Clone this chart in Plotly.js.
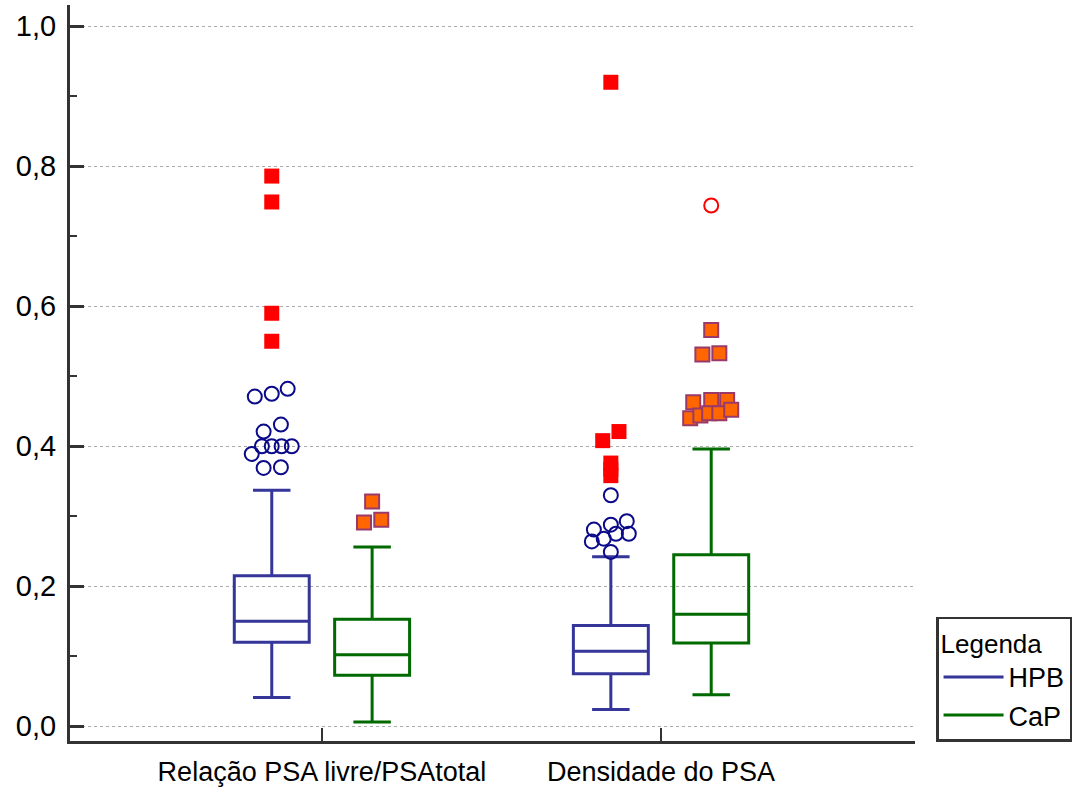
<!DOCTYPE html>
<html>
<head>
<meta charset="utf-8">
<script src="https://cdn.plot.ly/plotly-3.0.1.min.js"></script>
<style>html,body{margin:0;padding:0;background:#fff;}#chart{width:1075px;height:793px;}</style>
</head>
<body>
<div id="chart"></div>
<script>
// ---- Data ----
const categories = ["Relação PSA livre/PSAtotal", "Densidade do PSA"];
const seriesNames = ["HPB", "CaP"];

// Box statistics per category [Relação, Densidade]
const hpbLowerWhisker = [0.041, 0.024];
const hpbQ1           = [0.120, 0.075];
const hpbMedian       = [0.150, 0.107];
const hpbQ3           = [0.215, 0.144];
const hpbUpperWhisker = [0.337, 0.242];

const capLowerWhisker = [0.006, 0.045];
const capQ1           = [0.073, 0.119];
const capMedian       = [0.102, 0.160];
const capQ3           = [0.153, 0.245];
const capUpperWhisker = [0.256, 0.396];

// Outside values (circles) and far-out values (squares), per category
const hpbOutside1 = [0.471, 0.475, 0.482, 0.431, 0.421, 0.389, 0.400, 0.400, 0.400, 0.400, 0.369, 0.370];
const hpbOutside1Jitter = [-0.050, 0, 0.047, 0.027, -0.024, -0.059, -0.029, 0, 0.029, 0.059, -0.024, 0.027];
const hpbFarOut1 = [0.786, 0.749, 0.590, 0.550];
const hpbFarOut1Jitter = [0, 0, 0, 0];

const capFarOut1 = [0.321, 0.291, 0.295];
const capFarOut1Jitter = [0, -0.024, 0.027];

const hpbOutside2 = [0.330, 0.281, 0.288, 0.293, 0.264, 0.268, 0.275, 0.275, 0.249];
const hpbOutside2Jitter = [0, -0.050, 0, 0.047, -0.056, -0.021, 0.015, 0.053, 0];
const hpbFarOut2 = [0.920, 0.408, 0.421, 0.376, 0.367, 0.358];
const hpbFarOut2Jitter = [0, -0.024, 0.024, 0, 0, 0];

const capOutside2 = [0.744];
const capOutside2Jitter = [0];
const capFarOut2 = [0.566, 0.531, 0.533, 0.463, 0.466, 0.466, 0.440, 0.444, 0.447, 0.447, 0.452];
const capFarOut2Jitter = [0, -0.026, 0.024, -0.053, 0, 0.047, -0.062, -0.032, -0.006, 0.024, 0.059];

// ---- Styling ----
const HPB_COLOR = "#35359a";
const CAP_COLOR = "#006a00";
const OFFSET = 0.148;
const BOXW = 0.221;
const FONT = "Liberation Sans, Arial, sans-serif";

const catIdx = categories.map((c, i) => i);
function xs(cat, off, jit) { return jit.map(j => cat + off + j); }

function boxTrace(name, color, off, lf, q1, med, q3, uf) {
  return {
    type: "box", name: name, showlegend: false,
    x: catIdx.map(i => i + off),
    lowerfence: lf, q1: q1, median: med, q3: q3, upperfence: uf,
    width: BOXW, whiskerwidth: 0.5, boxpoints: false,
    fillcolor: "rgba(255,255,255,0)",
    line: {color: color, width: 3},
    hoverinfo: "y"
  };
}

const circleNavy = {symbol: "circle-open", size: 14, color: "#0a0a8a", line: {width: 2, color: "#0a0a8a"}};
const circleRed = {symbol: "circle-open", size: 14, color: "#ff0000", line: {width: 2, color: "#ff0000"}};
const squareRed = {symbol: "square", size: 15, color: "#ff0000", line: {width: 0}};
const squareOrange = {symbol: "square", size: 14, color: "#ff6600", line: {width: 2, color: "#9a3a6a"}};

function pts(x, y, marker) {
  return {type: "scatter", mode: "markers", x: x, y: y, marker: marker, showlegend: false, hoverinfo: "y"};
}

const data = [
  boxTrace(seriesNames[0], HPB_COLOR, -OFFSET, hpbLowerWhisker, hpbQ1, hpbMedian, hpbQ3, hpbUpperWhisker),
  boxTrace(seriesNames[1], CAP_COLOR, OFFSET, capLowerWhisker, capQ1, capMedian, capQ3, capUpperWhisker),
  pts(xs(0, -OFFSET, hpbOutside1Jitter), hpbOutside1, circleNavy),
  pts(xs(0, -OFFSET, hpbFarOut1Jitter), hpbFarOut1, squareRed),
  pts(xs(0, OFFSET, capFarOut1Jitter), capFarOut1, squareOrange),
  pts(xs(1, -OFFSET, hpbOutside2Jitter), hpbOutside2, circleNavy),
  pts(xs(1, -OFFSET, hpbFarOut2Jitter), hpbFarOut2, squareRed),
  pts(xs(1, OFFSET, capOutside2Jitter), capOutside2, circleRed),
  pts(xs(1, OFFSET, capFarOut2Jitter), capFarOut2, squareOrange),
  // legend entries
  {type: "scatter", mode: "lines", x: [null], y: [null], name: seriesNames[0], line: {color: HPB_COLOR, width: 3}},
  {type: "scatter", mode: "lines", x: [null], y: [null], name: seriesNames[1], line: {color: CAP_COLOR, width: 3}}
];

const layout = {
  width: 1075, height: 793,
  margin: {l: 70, r: 160, t: 5, b: 52, autoexpand: false},
  paper_bgcolor: "#fff", plot_bgcolor: "#fff",
  separators: ",.",
  font: {family: FONT, size: 24, color: "#000"},
  showlegend: true,
  xaxis: {
    range: [-0.743, 1.749],
    tickvals: catIdx, ticktext: categories,
    ticks: "inside", ticklen: 13, tickwidth: 2.5, tickcolor: "#333",
    showline: true, linewidth: 3, linecolor: "#333",
    showgrid: false, zeroline: false,
    ticklabelstandoff: 5,
    tickfont: {size: 27, family: FONT, color: "#000"}
  },
  yaxis: {
    range: [-0.0211, 1.0304],
    tick0: 0, dtick: 0.2, tickformat: ".1f",
    ticks: "inside", ticklen: 14, tickwidth: 3, tickcolor: "#333",
    showline: true, linewidth: 3, linecolor: "#333",
    showgrid: true, gridcolor: "#aaaaaa", gridwidth: 1, griddash: "dot",
    zeroline: false,
    ticklabelstandoff: 5,
    tickfont: {size: 29, family: FONT, color: "#000"},
    minor: {dtick: 0.1, tick0: 0, ticks: "inside", ticklen: 7, tickwidth: 2, tickcolor: "#333", showgrid: false}
  },
  legend: {
    x: 1.0249, y: 0.169, xanchor: "left", yanchor: "top",
    bordercolor: "#333", borderwidth: 2.5, bgcolor: "#fff",
    title: {text: "Legenda", font: {size: 26, family: FONT, color: "#000"}},
    font: {size: 27, family: FONT, color: "#000"},
    itemwidth: 60
  }
};

Plotly.newPlot("chart", data, layout, {displayModeBar: false, staticPlot: true});
</script>
</body>
</html>
